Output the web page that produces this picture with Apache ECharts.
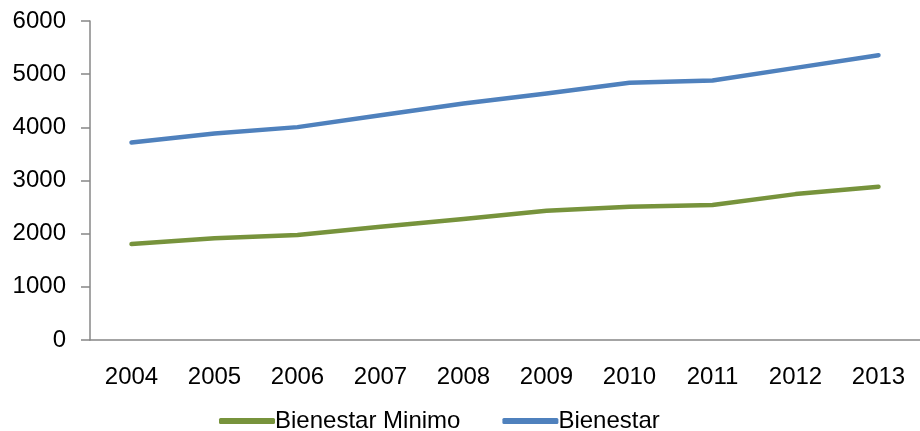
<!DOCTYPE html>
<html>
<head>
<meta charset="utf-8">
<script src="https://cdn.jsdelivr.net/npm/echarts@6/dist/echarts.min.js"></script>
<style>
html,body{margin:0;padding:0;background:#fff;}
#c{width:920px;height:431px;}
</style>
</head>
<body>
<div id="c"></div>
<script>
var years = ['2004','2005','2006','2007','2008','2009','2010','2011','2012','2013'];
var bienestarMinimo = [1805, 1912, 1974, 2130, 2274, 2430, 2506, 2538, 2744, 2882];
var bienestar = [3716, 3885, 4004, 4229, 4449, 4636, 4838, 4881, 5118, 5357];
var yTicks = {min: 0, max: 6000, interval: 1000};

var chart = echarts.init(document.getElementById('c'));
var font = 'Liberation Sans, Arial, sans-serif';
chart.setOption({
  animation: false,
  backgroundColor: '#fff',
  grid: {left: 90, top: 21, width: 837, height: 319, containLabel: false},
  legend: {
    left: 214, top: 404,
    itemWidth: 56, itemHeight: 6, itemGap: 42,
    icon: 'roundRect',
    textStyle: {fontFamily: font, fontSize: 24, color: '#000', padding: [0,0,0,-5]},
    data: ['Bienestar Minimo', 'Bienestar']
  },
  xAxis: {
    type: 'category',
    data: years,
    boundaryGap: true,
    axisLine: {lineStyle: {color: '#878787', width: 1.5}},
    axisTick: {length: 8, lineStyle: {color: '#878787', width: 1.5}},
    axisLabel: {fontFamily: font, fontSize: 24, color: '#000', margin: 25, interval: 0},
    splitLine: {show: false}
  },
  yAxis: {
    type: 'value',
    min: yTicks.min, max: yTicks.max, interval: yTicks.interval,
    axisLine: {show: true, lineStyle: {color: '#878787', width: 1.5}},
    axisTick: {show: true, inside: false, length: 9, lineStyle: {color: '#878787', width: 1.5}},
    axisLabel: {fontFamily: font, fontSize: 24, color: '#000', margin: 24, formatter: function (v) { return String(v); }},
    splitLine: {show: false}
  },
  series: [
    {
      name: 'Bienestar Minimo', type: 'line', data: bienestarMinimo,
      symbol: 'none', color: '#77933C',
      lineStyle: {width: 4.5, color: '#77933C', cap: 'round', join: 'round'}
    },
    {
      name: 'Bienestar', type: 'line', data: bienestar,
      symbol: 'none', color: '#4F81BD',
      lineStyle: {width: 4.5, color: '#4F81BD', cap: 'round', join: 'round'}
    }
  ]
});
</script>
</body>
</html>
